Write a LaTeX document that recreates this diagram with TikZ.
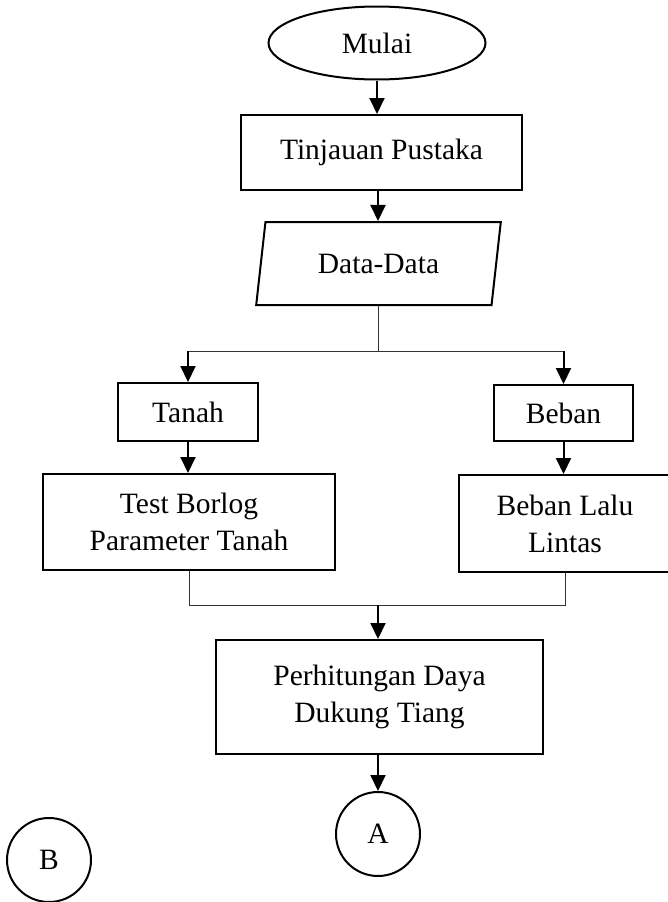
\documentclass[tikz,border=0pt]{standalone}
\usepackage{fontspec}
\setmainfont{Liberation Serif}
\usetikzlibrary{shapes.geometric,arrows.meta}
\begin{document}
\begin{tikzpicture}[x=1pt,y=-1pt,
  box/.style={draw,line width=2pt,inner sep=0pt,align=center,font=\fontsize{29.5}{37}\selectfont},
  conn/.style={line width=1pt,draw=black!80},
  arr/.style={line width=2pt,-{Triangle[width=15pt,length=16pt]}},
]
\useasboundingbox (0,0) rectangle (668,902);
\clip (0,0) rectangle (668,902);

\node[box,ellipse,minimum width=217pt,minimum height=73pt] (mulai) at (377,43) {Mulai};
\node[box,minimum width=281pt,minimum height=75pt] (tinjau) at (381.5,152.5) {Tinjauan Pustaka};
\node[box,trapezium,trapezium left angle=75.8,trapezium right angle=104.2,trapezium stretches=true,minimum width=245pt,minimum height=83pt] (data) at (378.5,263.5) {Data-Data};
\node[box,minimum width=140pt,minimum height=58pt] (tanah) at (188,412) {Tanah};
\node[box,minimum width=139pt,minimum height=56pt] (beban) at (563.5,413) {Beban};
\node[box,minimum width=292pt,minimum height=96pt] (borlog) at (189,522) {Test Borlog\\Parameter Tanah};
\node[box,minimum width=212pt,minimum height=97pt] (lalu) at (565,523.5) {Beban Lalu\\Lintas};
\node[box,minimum width=327pt,minimum height=114pt] (hitung) at (379.5,697) {Perhitungan Daya\\Dukung Tiang};
\node[box,circle,minimum size=84pt] (A) at (378,834) {A};
\node[box,circle,minimum size=84pt] (B) at (49,860) {B};

\coordinate (split) at (378,351);
\coordinate (join) at (378,605);

\draw[arr] (mulai.south) -- (mulai.south |- tinjau.north);
\draw[arr] (tinjau.south -| split) -- (split |- data.north);
\draw[conn] (split |- data.south) -- (split);
\draw[conn] (tanah.north |- split) -- (beban.north |- split);
\draw[arr] (tanah.north |- split) -- (tanah.north);
\draw[arr] (beban.north |- split) -- (beban.north);
\draw[arr] (tanah.south) -- (tanah.south |- borlog.north);
\draw[arr] (beban.south) -- (beban.south |- lalu.north);
\draw[conn] (borlog.south) |- (lalu.south |- join) -- (lalu.south);
\draw[arr] (join) -- (join |- hitung.north);
\draw[arr] (hitung.south -| A) -- (A.north);
\end{tikzpicture}
\end{document}
